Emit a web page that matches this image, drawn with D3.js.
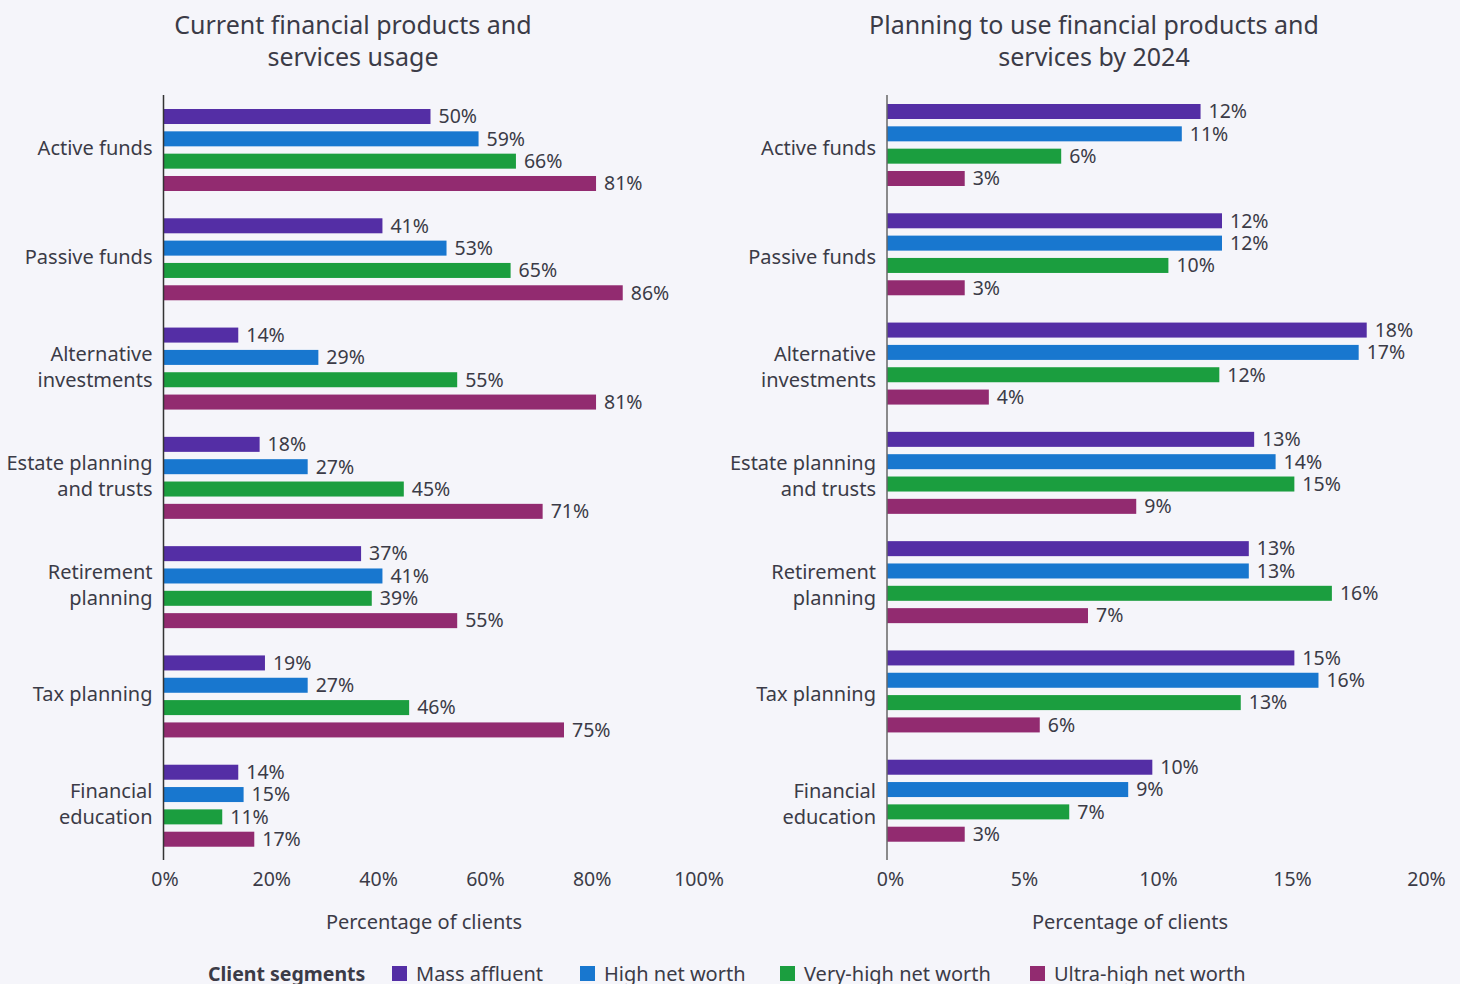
<!DOCTYPE html>
<html>
<head>
<meta charset="utf-8">
<script src="https://cdn.jsdelivr.net/npm/d3@7"></script>
<style>
  html, body { margin: 0; padding: 0; background: #f5f5fa; }
  svg { display: block; font-family: "Noto Sans", "DejaVu Sans", sans-serif; }
</style>
</head>
<body>
<svg id="chart" width="1460" height="984"></svg>
<script>
// ---------- DATA ----------
const categories = ["Active funds", "Passive funds", "Alternative investments", "Estate planning and trusts", "Retirement planning", "Tax planning", "Financial education"];
const categoryLines = [["Active funds"], ["Passive funds"], ["Alternative", "investments"], ["Estate planning", "and trusts"], ["Retirement", "planning"], ["Tax planning"], ["Financial", "education"]];
const segments = ["Mass affluent", "High net worth", "Very-high net worth", "Ultra-high net worth"];
const segmentColors = ["#542ea5", "#1877cf", "#1b9e3f", "#922b70"];

// Current usage (%)
const currentMassAffluent = [50, 41, 14, 18, 37, 19, 14];
const currentHighNetWorth = [59, 53, 29, 27, 41, 27, 15];
const currentVeryHighNetWorth = [66, 65, 55, 45, 39, 46, 11];
const currentUltraHighNetWorth = [81, 86, 81, 71, 55, 75, 17];

// Planning by 2024 (%), bar lengths as drawn
const planMassAffluent = [11.7, 12.5, 17.9, 13.7, 13.5, 15.2, 9.9];
const planHighNetWorth = [11.0, 12.5, 17.6, 14.5, 13.5, 16.1, 9.0];
const planVeryHighNetWorth = [6.5, 10.5, 12.4, 15.2, 16.6, 13.2, 6.8];
const planUltraHighNetWorth = [2.9, 2.9, 3.8, 9.3, 7.5, 5.7, 2.9];
// Planning labels as printed (%)
const planMassAffluentLabels = [12, 12, 18, 13, 13, 15, 10];
const planHighNetWorthLabels = [11, 12, 17, 14, 13, 16, 9];
const planVeryHighNetWorthLabels = [6, 10, 12, 15, 16, 13, 7];
const planUltraHighNetWorthLabels = [3, 3, 4, 9, 7, 6, 3];

const currentTicks = [0, 20, 40, 60, 80, 100];
const planTicks = [0, 5, 10, 15, 20];

const titleCurrent = ["Current financial products and", "services usage"];
const titlePlan = ["Planning to use financial products and", "services by 2024"];
const axisTitle = "Percentage of clients";
const legendTitle = "Client segments";

// ---------- DRAW ----------
const TEXT = "#3b3b47";
const svg = d3.select("#chart");
svg.append("rect").attr("width", 1460).attr("height", 984).attr("fill", "#f5f5fa");

svg.append("defs").append("clipPath").attr("id", "clipR")
  .append("rect").attr("x", 0).attr("y", 0).attr("width", 1445).attr("height", 984);

function panel(cfg) {
  const g = svg.append("g");
  const x = d3.scaleLinear().domain(cfg.domain).range(cfg.xRange);
  const y = d3.scaleBand().domain(categories).range(cfg.yRange).paddingInner(0).paddingOuter(0);
  const yi = d3.scaleBand().domain(segments).range([14, 96]).paddingInner(0.328).paddingOuter(0);

  // title
  const t = g.append("text").attr("text-anchor", "middle").attr("fill", TEXT)
    .attr("font-size", 25).attr("font-weight", 400);
  cfg.title.forEach((line, i) => {
    t.append("tspan").attr("x", cfg.titleX).attr("y", 25 + i * 32).attr("dy", "0.35em").text(line);
  });

  // bars
  const rows = [];
  categories.forEach((c, ci) => {
    segments.forEach((s, si) => {
      rows.push({ c, s, si, v: cfg.values[si][ci], lab: cfg.labels[si][ci] });
    });
  });
  g.selectAll("rect.bar").data(rows).join("rect")
    .attr("class", "bar")
    .attr("x", x(0))
    .attr("y", d => y(d.c) + yi(d.s))
    .attr("width", d => x(d.v) - x(0))
    .attr("height", yi.bandwidth())
    .attr("fill", d => segmentColors[d.si]);

  g.selectAll("text.val").data(rows).join("text")
    .attr("class", "val")
    .attr("x", d => x(d.v) + 8)
    .attr("y", d => y(d.c) + yi(d.s) + yi.bandwidth() / 2)
    .attr("dy", "0.35em")
    .attr("font-size", 19.5)
    .attr("fill", TEXT)
    .text(d => d.lab + "%");

  // y axis line
  g.append("line").attr("x1", x(0)).attr("x2", x(0)).attr("y1", 95).attr("y2", 860)
    .attr("stroke", cfg.axisColor).attr("stroke-width", 1.5);

  // category labels
  categories.forEach((c, ci) => {
    const lines = categoryLines[ci];
    const cy = y(c) + 55 + cfg.labelOffset;
    const tx = g.append("text").attr("text-anchor", "end").attr("fill", TEXT).attr("font-size", 20);
    lines.forEach((ln, li) => {
      tx.append("tspan").attr("x", x(0) - 11)
        .attr("y", cy + (li - (lines.length - 1) / 2) * 26)
        .attr("dy", "0.35em").text(ln);
    });
  });

  // x axis (labels only)
  const ax = g.append("g").attr("transform", `translate(${cfg.tickShift},860)`)
    .call(d3.axisBottom(x).tickValues(cfg.ticks).tickFormat(d => d + "%").tickSize(0));
  ax.select(".domain").remove();
  ax.selectAll("text").attr("y", 19).attr("dy", "0.35em")
    .attr("font-size", 19.5).attr("font-family", "Noto Sans, sans-serif").attr("fill", TEXT);
  if (cfg.clip) ax.attr("clip-path", "url(#clipR)");

  g.append("text").attr("x", cfg.axisTitleX).attr("y", 922).attr("dy", "0.35em")
    .attr("text-anchor", "middle").attr("font-size", 20).attr("fill", TEXT).text(axisTitle);
}

panel({
  domain: [0, 100], xRange: [163.5, 697.5], yRange: [95, 860],
  values: [currentMassAffluent, currentHighNetWorth, currentVeryHighNetWorth, currentUltraHighNetWorth],
  labels: [currentMassAffluent, currentHighNetWorth, currentVeryHighNetWorth, currentUltraHighNetWorth],
  ticks: currentTicks, title: titleCurrent, titleX: 353, axisTitleX: 424,
  labelOffset: -2, tickShift: 1, axisColor: "#333", clip: false
});

panel({
  domain: [0, 20], xRange: [887, 1423], yRange: [90, 855],
  values: [planMassAffluent, planHighNetWorth, planVeryHighNetWorth, planUltraHighNetWorth],
  labels: [planMassAffluentLabels, planHighNetWorthLabels, planVeryHighNetWorthLabels, planUltraHighNetWorthLabels],
  ticks: planTicks, title: titlePlan, titleX: 1094, axisTitleX: 1130,
  labelOffset: 3, tickShift: 3, axisColor: "#666", clip: true
});

// legend
const legendX = [392, 580, 780, 1030];
const lg = svg.append("g");
lg.append("text").attr("x", 208).attr("y", 974).attr("dy", "0.35em")
  .attr("font-size", 19.5).attr("font-weight", 700).attr("fill", TEXT).text(legendTitle);
segments.forEach((s, i) => {
  lg.append("rect").attr("x", legendX[i]).attr("y", 966).attr("width", 15).attr("height", 15)
    .attr("fill", segmentColors[i]);
  lg.append("text").attr("x", legendX[i] + 24).attr("y", 974).attr("dy", "0.35em")
    .attr("font-size", 20).attr("fill", TEXT).text(s);
});
</script>
</body>
</html>
